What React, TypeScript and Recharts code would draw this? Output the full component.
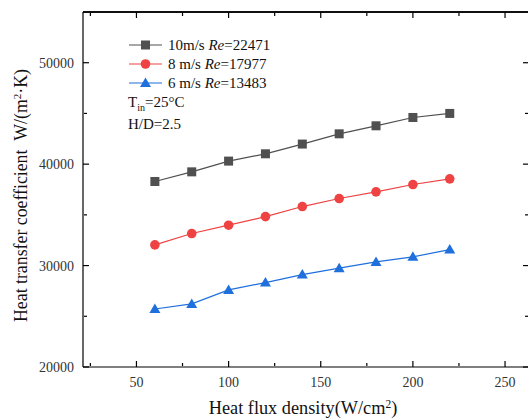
import React from 'react';
import { LineChart, Line, XAxis, YAxis, Legend, ReferenceLine } from 'recharts';

const heatFlux = [60, 80, 100, 120, 140, 160, 180, 200, 220];
const htc10 = [38290, 39240, 40300, 41020, 41980, 42990, 43780, 44600, 45000];
const htc8 = [32040, 33160, 33980, 34830, 35820, 36610, 37270, 37990, 38550];
const htc6 = [25720, 26220, 27600, 28320, 29110, 29740, 30360, 30860, 31580];

const xMajorTicks = [50, 100, 150, 200, 250];
const xMinorTicks = [25, 75, 125, 175, 225];
const yMajorTicks = [20000, 30000, 40000, 50000];
const yMinorTicks = [25000, 35000, 45000];

const seriesInfo = [
  { key: 'v10', speed: '10m/s ', re: '22471', color: '#505050', shape: 'square' },
  { key: 'v8', speed: '8 m/s ', re: '17977', color: '#ef4242', shape: 'circle' },
  { key: 'v6', speed: '6 m/s ', re: '13483', color: '#1f6fdd', shape: 'triangle' },
];

const chartData = heatFlux.map((q, i) => ({ q, v10: htc10[i], v8: htc8[i], v6: htc6[i] }));

const FONT = '"Liberation Serif", "Times New Roman", serif';
const xDomain = [21, 263];
const yDomain = [20000, 55000];
const frame = { stroke: '#000', strokeWidth: 1.2 };

function Marker({ shape, color, cx, cy }: { shape: string; color: string; cx: number; cy: number }) {
  if (shape === 'square') {
    return <rect x={cx - 4.5} y={cy - 4.5} width={9} height={9} fill={color} />;
  }
  if (shape === 'circle') {
    return <circle cx={cx} cy={cy} r={4.8} fill={color} />;
  }
  return (
    <polygon
      points={`${cx},${cy - 5.5} ${cx + 5.5},${cy + 4} ${cx - 5.5},${cy + 4}`}
      fill={color}
    />
  );
}

const makeDot = (shape: string, color: string) => (props: any) => {
  const { cx, cy, index } = props;
  if (cx == null || cy == null) return <g key={index} />;
  return <Marker key={index} shape={shape} color={color} cx={cx} cy={cy} />;
};

const noTick = () => <g />;

const XTick = (props: any) => (
  <text x={props.x} y={props.y} dy="0.71em" textAnchor="middle" fontFamily={FONT} fontSize={14} fill="#333">
    {props.payload.value}
  </text>
);

const YTick = (props: any) => (
  <text x={props.x} y={props.y} dy="0.355em" textAnchor="end" fontFamily={FONT} fontSize={14} fill="#333">
    {props.payload.value}
  </text>
);

function LegendBox() {
  return (
    <div style={{ fontFamily: FONT, fontSize: 15, color: '#111', lineHeight: '18.8px' }}>
      {seriesInfo.map((s) => (
        <div key={s.key} style={{ display: 'flex', alignItems: 'center', height: 18.8 }}>
          <svg width={38} height={18} style={{ marginRight: 2 }}>
            <line x1={1} y1={9} x2={34} y2={9} stroke={s.color} strokeWidth={1.2} />
            <Marker shape={s.shape} color={s.color} cx={17.5} cy={9} />
          </svg>
          <span>
            {s.speed}
            <i>Re</i>={s.re}
          </span>
        </div>
      ))}
      <div style={{ marginTop: 1, height: 20 }}>
        T<span style={{ fontSize: 10, position: 'relative', top: 4 }}>in</span>=25°C
      </div>
      <div style={{ marginTop: 2 }}>H/D=2.5</div>
    </div>
  );
}

function YTitle(props: any) {
  const vb = props.viewBox || { x: 0, y: 12, width: 83, height: 355 };
  const cx = 27;
  const cy = vb.y + vb.height / 2 + 6;
  return (
    <text
      x={cx}
      y={cy}
      transform={`rotate(-90 ${cx} ${cy})`}
      textAnchor="middle"
      fontFamily={FONT}
      fontSize={17.8}
      fill="#111"
    >
      Heat transfer coefficient{'\u00a0\u00a0'}W/(m
      <tspan dy={-6} fontSize={11}>2</tspan>
      <tspan dy={6}>·K)</tspan>
    </text>
  );
}

function XTitle(props: any) {
  const vb = props.viewBox || { x: 83, y: 367, width: 446, height: 53 };
  const cx = vb.x + vb.width / 2 - 3;
  return (
    <text x={cx} y={414} textAnchor="middle" fontFamily={FONT} fontSize={18.3} fill="#111">
      Heat flux density(W/cm
      <tspan dy={-6} fontSize={11.5}>2</tspan>
      <tspan dy={6}>)</tspan>
    </text>
  );
}

export default function App() {
  return (
    <div style={{ position: 'absolute', left: 0, top: 0, width: 528, height: 420, overflow: 'hidden', background: '#fff' }}>
      <LineChart width={540} height={420} data={chartData} margin={{ top: 0, right: 0, bottom: 0, left: 0 }}>
        {/* frame lines on top and right (these axes reserve the outer margin) */}
        <XAxis xAxisId="topFrame" orientation="top" type="number" dataKey="q" domain={xDomain} allowDataOverflow ticks={xMajorTicks} height={12} tickLine={false} tick={noTick} axisLine={{ stroke: '#000', strokeWidth: 1.4 }} />
        <YAxis yAxisId="rightFrame" orientation="right" type="number" domain={yDomain} allowDataOverflow ticks={yMajorTicks} width={11} tickLine={false} tick={noTick} axisLine={{ stroke: '#000', strokeWidth: 1.4 }} />

        {/* inward tick marks (mirror axes take no space) */}
        <XAxis xAxisId="bMaj" type="number" dataKey="q" domain={xDomain} allowDataOverflow ticks={xMajorTicks} mirror height={1} tickSize={6} tick={noTick} axisLine={false} tickLine={frame} />
        <XAxis xAxisId="bMin" type="number" dataKey="q" domain={xDomain} allowDataOverflow ticks={xMinorTicks} mirror height={1} tickSize={3} tick={noTick} axisLine={false} tickLine={frame} />
        <XAxis xAxisId="tMaj" orientation="top" type="number" dataKey="q" domain={xDomain} allowDataOverflow ticks={xMajorTicks} mirror height={1} tickSize={6} tick={noTick} axisLine={false} tickLine={frame} />
        <XAxis xAxisId="tMin" orientation="top" type="number" dataKey="q" domain={xDomain} allowDataOverflow ticks={xMinorTicks} mirror height={1} tickSize={3} tick={noTick} axisLine={false} tickLine={frame} />
        <YAxis yAxisId="lMaj" type="number" domain={yDomain} allowDataOverflow ticks={yMajorTicks} mirror width={1} tickSize={6} tick={noTick} axisLine={false} tickLine={frame} />
        <YAxis yAxisId="lMin" type="number" domain={yDomain} allowDataOverflow ticks={yMinorTicks} mirror width={1} tickSize={3} tick={noTick} axisLine={false} tickLine={frame} />
        <YAxis yAxisId="rMaj" orientation="right" type="number" domain={yDomain} allowDataOverflow ticks={yMajorTicks} mirror width={1} tickSize={6} tick={noTick} axisLine={false} tickLine={frame} />
        <YAxis yAxisId="rMin" orientation="right" type="number" domain={yDomain} allowDataOverflow ticks={yMinorTicks} mirror width={1} tickSize={3} tick={noTick} axisLine={false} tickLine={frame} />

        {/* main labelled axes */}
        <XAxis xAxisId="main" type="number" dataKey="q" domain={xDomain} allowDataOverflow ticks={xMajorTicks} height={53} tickLine={false} tickSize={0} tickMargin={10} tick={XTick} axisLine={frame} label={{ content: XTitle }} />
        <YAxis yAxisId="main" type="number" domain={yDomain} allowDataOverflow ticks={yMajorTicks} width={83} tickLine={false} tickSize={0} tickMargin={9} tick={YTick} axisLine={frame} label={{ content: YTitle }} />

        <ReferenceLine xAxisId="main" yAxisId="main" y={yDomain[1]} stroke="#000" strokeWidth={1.4} ifOverflow="visible" />

        <Legend
          layout="vertical"
          align="center"
          verticalAlign="middle"
          content={() => <LegendBox />}
          wrapperStyle={{ left: 128, top: 36, width: 200 }}
        />

        {seriesInfo.map((s) => (
          <Line
            key={s.key}
            xAxisId="main"
            yAxisId="main"
            dataKey={s.key}
            stroke={s.color}
            strokeWidth={1.2}
            dot={makeDot(s.shape, s.color)}
            activeDot={false}
            isAnimationActive={false}
          />
        ))}
      </LineChart>
    </div>
  );
}
